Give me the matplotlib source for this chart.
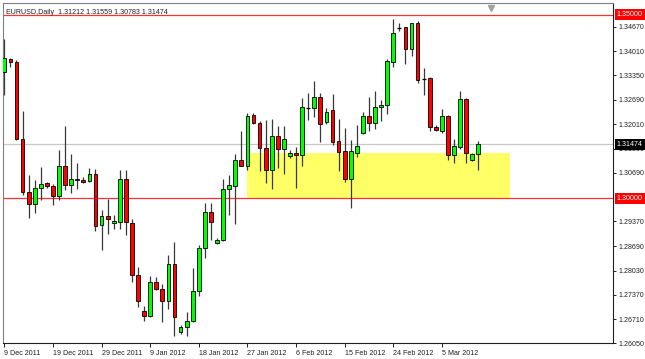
import numpy as np
import matplotlib
matplotlib.use("Agg")
import matplotlib.pyplot as plt
from matplotlib.patches import Rectangle
from matplotlib.transforms import blended_transform_factory

# =============================
# DATA (EURUSD daily)
# =============================

opens = [
    1.33445, 1.33791, 1.33701, 1.31610, 1.30170, 1.29854, 1.30279, 1.30416, 1.30345, 1.30053,
    1.30871, 1.30372, 1.30536, 1.30508, 1.30470, 1.30672, 1.29261, 1.29515, 1.29335, 1.29352,
    1.30536, 1.29324, 1.27916, 1.26942, 1.26787, 1.27733, 1.27534, 1.27215, 1.28216, 1.26350,
    1.26505, 1.26650, 1.27469, 1.28642, 1.29616, 1.28784, 1.28852, 1.30244, 1.30334, 1.31054,
    1.30880, 1.32263, 1.32064, 1.31382, 1.30762, 1.31690, 1.31354, 1.31144, 1.31234, 1.31171,
    1.32460, 1.32462, 1.32746, 1.32080, 1.32399, 1.31554, 1.31281, 1.30536, 1.31234, 1.31780,
    1.32236, 1.32064, 1.32473, 1.32536, 1.33718, 1.34632, 1.34656, 1.34064, 1.34782, 1.33251,
    1.33265, 1.31944, 1.31835, 1.32236, 1.31191, 1.31398, 1.32700, 1.31035, 1.31212,
]
highs = [
    1.34337, 1.33818, 1.33764, 1.32380, 1.30626, 1.30489, 1.30852, 1.30443, 1.30399, 1.31327,
    1.31963, 1.31199, 1.30972, 1.30579, 1.30825, 1.30809, 1.29671, 1.29990, 1.29534, 1.30762,
    1.30762, 1.29444, 1.28124, 1.27079, 1.27870, 1.27851, 1.27652, 1.28443, 1.28806, 1.26560,
    1.26896, 1.28096, 1.28716, 1.29870, 1.29870, 1.28907, 1.30536, 1.30645, 1.31199, 1.31835,
    1.32326, 1.32326, 1.32108, 1.32127, 1.32173, 1.31963, 1.31963, 1.31308, 1.31398, 1.32719,
    1.32872, 1.33200, 1.32855, 1.32446, 1.32836, 1.32154, 1.31916, 1.31581, 1.31990, 1.32353,
    1.32762, 1.32926, 1.32672, 1.33783, 1.34874, 1.34765, 1.34672, 1.34782, 1.34836, 1.33554,
    1.33292, 1.31990, 1.32419, 1.32263, 1.31627, 1.32918, 1.32719, 1.31234, 1.31559,
]
lows = [
    1.32809, 1.33581, 1.31594, 1.30080, 1.29452, 1.29589, 1.29944, 1.30290, 1.29815, 1.29944,
    1.30236, 1.30143, 1.30252, 1.30416, 1.30443, 1.29106, 1.28579, 1.29035, 1.29152, 1.29172,
    1.28989, 1.27714, 1.27032, 1.26650, 1.26759, 1.27515, 1.26623, 1.26988, 1.26260, 1.26306,
    1.26260, 1.26642, 1.27351, 1.28380, 1.28866, 1.28757, 1.28825, 1.29534, 1.29308, 1.30871,
    1.30781, 1.32037, 1.30743, 1.30427, 1.30263, 1.30836, 1.30653, 1.31109, 1.30290, 1.30880,
    1.32146, 1.32217, 1.31535, 1.32037, 1.31444, 1.30735, 1.30443, 1.29744, 1.31125, 1.31745,
    1.31835, 1.31900, 1.32108, 1.32309, 1.33581, 1.34555, 1.33655, 1.33873, 1.33128, 1.32809,
    1.31835, 1.31827, 1.31780, 1.31035, 1.30962, 1.31354, 1.30962, 1.31016, 1.30783,
]
closes = [
    1.33810, 1.33701, 1.31608, 1.30170, 1.29835, 1.30290, 1.30399, 1.30326, 1.30053, 1.30871,
    1.30361, 1.30536, 1.30489, 1.30453, 1.30672, 1.29248, 1.29515, 1.29444, 1.29371, 1.30536,
    1.29352, 1.27916, 1.27196, 1.26787, 1.27733, 1.27534, 1.27215, 1.28216, 1.26778, 1.26505,
    1.26669, 1.27469, 1.28653, 1.29624, 1.29352, 1.28871, 1.30244, 1.30353, 1.31054, 1.30880,
    1.32236, 1.32053, 1.31371, 1.30762, 1.31690, 1.31354, 1.31627, 1.31245, 1.31171, 1.32473,
    1.32460, 1.32746, 1.32037, 1.32353, 1.31535, 1.31262, 1.30536, 1.31281, 1.31417, 1.32236,
    1.32064, 1.32473, 1.32536, 1.33737, 1.34509, 1.34632, 1.34064, 1.34765, 1.33218, 1.33251,
    1.31944, 1.31854, 1.32236, 1.31191, 1.31417, 1.32700, 1.31234, 1.31218, 1.31474,
]

date_labels = [
    "9 Dec 2011", "19 Dec 2011", "29 Dec 2011", "9 Jan 2012", "18 Jan 2012",
    "27 Jan 2012", "6 Feb 2012", "15 Feb 2012", "24 Feb 2012", "5 Mar 2012",
]
bars_per_label = 8

price_ticks = [1.34670, 1.34010, 1.33350, 1.32690, 1.32010, 1.31350, 1.30690,
               1.29370, 1.28690, 1.28030, 1.27370, 1.26710, 1.26050]

level_high = 1.35000
level_low = 1.30000
last_price = 1.31474

zone_start_bar = 40
zone_end_bar = 83.2
zone_top = 1.31234
zone_bottom = 1.29971

title = "EURUSD,Daily  1.31212 1.31559 1.30783 1.31474"

# =============================
# PLOT
# =============================

FONT = ["Liberation Sans", "DejaVu Sans"]
plt.rcParams["font.family"] = FONT
FS = 5.1

fig = plt.figure(figsize=(6.45, 3.59), dpi=100)
ax = fig.add_axes([0.0047, 0.0437, 0.9452, 0.9471])

idx = np.arange(len(opens))
o = np.array(opens)
c = np.array(closes)
up = c > o
down = c < o
flat = c == o

# support / resistance zone
ax.add_patch(Rectangle((zone_start_bar, zone_bottom), zone_end_bar - zone_start_bar,
                       zone_top - zone_bottom, facecolor="#ffff66", edgecolor="none", zorder=0))

ax.axhline(level_high, color="#ff3030", lw=0.9, zorder=1)
ax.axhline(level_low, color="#ff3030", lw=0.9, zorder=1)
ax.axhline(last_price, color="#c8c8c8", lw=0.9, zorder=1)

# candles
ax.vlines(idx, lows, highs, color="#383838", lw=0.9, zorder=2)
body_w = 0.62
ax.bar(idx[up], (c - o)[up], bottom=o[up], width=body_w, color="#00ff00",
       edgecolor="black", linewidth=0.6, zorder=3)
ax.bar(idx[down], (o - c)[down], bottom=c[down], width=body_w, color="#ff0000",
       edgecolor="black", linewidth=0.6, zorder=3)
ax.hlines(o[flat], idx[flat] - body_w / 2, idx[flat] + body_w / 2, color="black", lw=0.9, zorder=3)

ax.set_xlim(-0.21, 100.1)
ax.set_ylim(1.26050, 1.35311)

# axes styling
for side in ["left", "top"]:
    ax.spines[side].set_color("#808080")
for side in ["right", "bottom"]:
    ax.spines[side].set_color("#202020")
for s in ax.spines.values():
    s.set_linewidth(0.8)

ax.yaxis.tick_right()
ax.set_yticks(price_ticks)
ax.set_yticklabels([f"{p:.5f}" for p in price_ticks])
ax.tick_params(axis="y", direction="out", length=2.5, width=0.7, pad=2,
               labelsize=FS, colors="#202020")

tick_pos = [i * bars_per_label for i in range(len(date_labels))]
ax.set_xticks(tick_pos)
ax.set_xticklabels(date_labels, ha="left")
ax.tick_params(axis="x", direction="out", length=3, width=0.7, pad=1.5,
               labelsize=FS, colors="#202020")

# price boxes on the right edge
trans = blended_transform_factory(ax.transAxes, ax.transData)
for val, fc in [(level_high, "#ff0000"), (level_low, "#ff0000"), (last_price, "black")]:
    ax.text(1.0065, val, f"{val:.5f}", transform=trans, ha="left", va="center",
            fontsize=FS, color="white", clip_on=False, zorder=5,
            bbox=dict(boxstyle="square,pad=0.3", facecolor=fc, edgecolor="none"))

# chart shift marker
ax.plot([80], [0.985], marker="v", color="#a0a0a0", markersize=4,
        transform=blended_transform_factory(ax.transData, ax.transAxes), clip_on=False)

ax.text(0.005, 0.982, title, transform=ax.transAxes, ha="left", va="top",
        fontsize=FS, color="#202020")

fig.savefig("out.png", dpi=100, facecolor="white")
